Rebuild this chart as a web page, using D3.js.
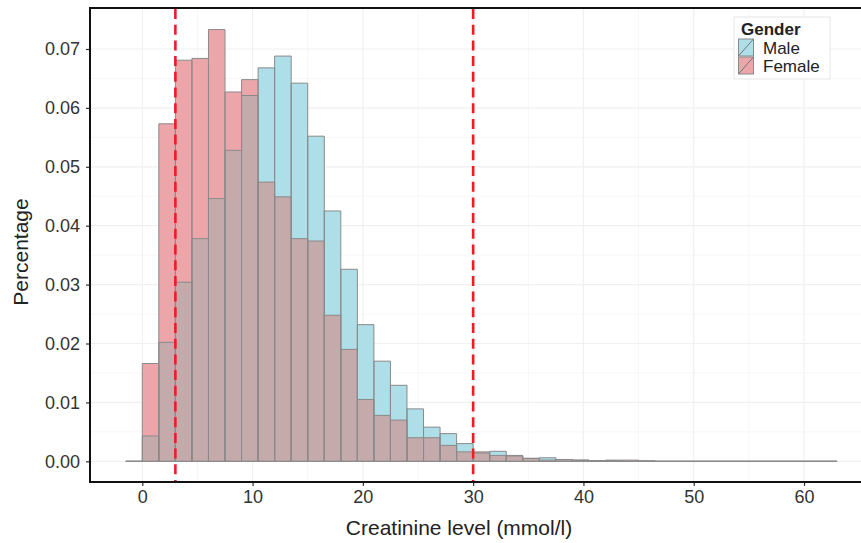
<!DOCTYPE html>
<html>
<head>
<meta charset="utf-8">
<script src="https://cdn.jsdelivr.net/npm/d3@7/dist/d3.min.js"></script>
<style>
  html, body { margin: 0; padding: 0; background: #fff; }
  svg { display: block; font-family: "Liberation Sans", Arial, sans-serif; }
</style>
</head>
<body>
<svg id="chart" width="861" height="543"></svg>
<script>
// ---- data ----
const binStarts = [-1.5, 0, 1.5, 3, 4.5, 6, 7.5, 9, 10.5, 12, 13.5, 15, 16.5, 18, 19.5, 21, 22.5, 24, 25.5, 27, 28.5,
  30, 31.5, 33, 34.5, 36, 37.5, 39, 40.5, 42, 43.5, 45, 46.5, 48, 49.5, 51, 52.5, 54, 55.5, 57, 58.5, 60, 61.5];
const binWidth = 1.5;
const maleValues = [0, 0.0043, 0.0202, 0.0304, 0.0378, 0.0446, 0.0528, 0.0621, 0.0668, 0.0688, 0.0642, 0.0552, 0.0425,
  0.0326, 0.0232, 0.0170, 0.0129, 0.0089, 0.0058, 0.0047, 0.0030, 0.0014, 0.0017, 0.0009, 0.0005, 0.0006, 0.0003,
  0.0002, 0.0001, 0.0001, 0.0000, 0.0001, 0, 0, 0, 0, 0, 0, 0, 0, 0, 0, 0];
const femaleValues = [0, 0.0166, 0.0573, 0.0681, 0.0684, 0.0733, 0.0627, 0.0648, 0.0474, 0.0449, 0.0378, 0.0374, 0.0248,
  0.0190, 0.0105, 0.0078, 0.0070, 0.0040, 0.0040, 0.0027, 0.0016, 0.0016, 0.0010, 0.0010, 0.0005, 0.0002, 0.0003,
  0.0002, 0.0001, 0.0002, 0.0002, 0.0000, 0, 0, 0, 0, 0, 0, 0, 0, 0, 0, 0];
const xTicks = [0, 10, 20, 30, 40, 50, 60];
const xMinor = [5, 15, 25, 35, 45, 55];
const yTicks = [0, 0.01, 0.02, 0.03, 0.04, 0.05, 0.06, 0.07];
const yMinor = [0.005, 0.015, 0.025, 0.035, 0.045, 0.055, 0.065];
const refLines = [3, 30];
const legendLabels = ["Male", "Female"];
const legendTitle = "Gender";
const xTitle = "Creatinine level (mmol/l)";
const yTitle = "Percentage";

// ---- layout ----
const panel = { left: 90, top: 8, right: 875, bottom: 482 };
const colMale = "#AEDEE8", colFemale = "#ECA6AA", colOverlap = "#C5AAAC", colEdge = "#8a8a8a";

const svg = d3.select("#chart");
const x = d3.scaleLinear().domain([0, 60]).range([142.3, 804]);
const y = d3.scaleLinear().domain([0, 0.07]).range([461.3, 49]);

const bins = binStarts.map((s, i) => ({ x0: s, x1: s + binWidth, m: maleValues[i], f: femaleValues[i] }));

// grid
const grid = svg.append("g");
grid.selectAll(".gmx").data(xMinor).join("line")
  .attr("x1", d => x(d)).attr("x2", d => x(d)).attr("y1", panel.top).attr("y2", panel.bottom)
  .attr("stroke", "#f7f7f7").attr("stroke-width", 1);
grid.selectAll(".gmy").data(yMinor).join("line")
  .attr("y1", d => y(d)).attr("y2", d => y(d)).attr("x1", panel.left).attr("x2", panel.right)
  .attr("stroke", "#f7f7f7").attr("stroke-width", 1);
grid.selectAll(".gx").data(xTicks).join("line")
  .attr("x1", d => x(d)).attr("x2", d => x(d)).attr("y1", panel.top).attr("y2", panel.bottom)
  .attr("stroke", "#f0f0f0").attr("stroke-width", 1.2);
grid.selectAll(".gy").data(yTicks).join("line")
  .attr("y1", d => y(d)).attr("y2", d => y(d)).attr("x1", panel.left).attr("x2", panel.right)
  .attr("stroke", "#f0f0f0").attr("stroke-width", 1.2);

// bars
const bars = svg.append("g");
bars.selectAll(".bm").data(bins.filter(b => b.m > 0)).join("rect")
  .attr("x", d => x(d.x0)).attr("width", d => x(d.x1) - x(d.x0))
  .attr("y", d => y(d.m)).attr("height", d => y(0) - y(d.m)).attr("fill", colMale);
bars.selectAll(".bf").data(bins.filter(b => b.f > 0)).join("rect")
  .attr("x", d => x(d.x0)).attr("width", d => x(d.x1) - x(d.x0))
  .attr("y", d => y(d.f)).attr("height", d => y(0) - y(d.f)).attr("fill", colFemale);
bars.selectAll(".bo").data(bins.filter(b => Math.min(b.m, b.f) > 0)).join("rect")
  .attr("x", d => x(d.x0)).attr("width", d => x(d.x1) - x(d.x0))
  .attr("y", d => y(Math.min(d.m, d.f))).attr("height", d => y(0) - y(Math.min(d.m, d.f))).attr("fill", colOverlap);

const outline = (v, d) => `M${x(d.x0)},${y(0)}V${y(v)}H${x(d.x1)}V${y(0)}Z`;
bars.selectAll(".om").data(bins).join("path")
  .attr("d", d => outline(d.m, d)).attr("fill", "none").attr("stroke", colEdge).attr("stroke-width", 1);
bars.selectAll(".of").data(bins).join("path")
  .attr("d", d => outline(d.f, d)).attr("fill", "none").attr("stroke", colEdge).attr("stroke-width", 1);

// reference lines
svg.append("g").selectAll("line").data(refLines).join("line")
  .attr("x1", d => x(d)).attr("x2", d => x(d)).attr("y1", panel.top + 1).attr("y2", panel.bottom)
  .attr("stroke", "#EE1C25").attr("stroke-width", 2.6).attr("stroke-dasharray", "10,5.7");

// axes
const xAxis = d3.axisBottom(x).tickValues(xTicks).tickFormat(d3.format("d")).tickSize(4).tickSizeOuter(0).tickPadding(4);
const gx = svg.append("g").attr("transform", `translate(0,${panel.bottom})`).call(xAxis);
gx.select(".domain").remove();
gx.selectAll(".tick line").attr("stroke", "#333").attr("stroke-width", 1.2);
gx.selectAll(".tick text").attr("fill", "#333").style("font-size", "18px").attr("dy", "0.71em");

const yAxis = d3.axisLeft(y).tickValues(yTicks).tickFormat(d3.format(".2f")).tickSize(4).tickSizeOuter(0).tickPadding(6);
const gy = svg.append("g").attr("transform", `translate(${panel.left},0)`).call(yAxis);
gy.select(".domain").remove();
gy.selectAll(".tick line").attr("stroke", "#333").attr("stroke-width", 1.2);
gy.selectAll(".tick text").attr("fill", "#333").style("font-size", "18px");

// frame lines (top, left, bottom)
const frame = svg.append("g").attr("stroke", "#111").attr("stroke-width", 2);
frame.append("line").attr("x1", panel.left).attr("x2", 861).attr("y1", panel.top).attr("y2", panel.top);
frame.append("line").attr("x1", panel.left).attr("x2", panel.left).attr("y1", panel.top - 1).attr("y2", panel.bottom + 1);
frame.append("line").attr("x1", panel.left).attr("x2", 861).attr("y1", panel.bottom).attr("y2", panel.bottom);

// axis titles
svg.append("text").attr("x", 459).attr("y", 535)
  .attr("text-anchor", "middle").style("font-size", "21px").attr("fill", "#222").text(xTitle);
svg.append("text").attr("transform", `translate(28,252) rotate(-90)`)
  .attr("text-anchor", "middle").style("font-size", "21px").attr("fill", "#222").text(yTitle);

// legend
const lg = svg.append("g").attr("transform", "translate(734,17)");
lg.append("rect").attr("x", 0).attr("y", 0).attr("width", 96).attr("height", 62)
  .attr("fill", "#fff").attr("stroke", "#e6e6e6").attr("stroke-width", 1);
lg.append("text").attr("x", 7).attr("y", 17.5).style("font-size", "17px").style("font-weight", "bold")
  .attr("fill", "#222").text(legendTitle);
const keyCols = [colMale, colFemale];
legendLabels.forEach((lab, i) => {
  const ky = 22 + i * 18;
  lg.append("rect").attr("x", 4.5).attr("y", ky).attr("width", 15).attr("height", 17)
    .attr("fill", keyCols[i]).attr("stroke", colEdge).attr("stroke-width", 1);
  lg.append("line").attr("x1", 4.5).attr("y1", ky + 17).attr("x2", 19.5).attr("y2", ky)
    .attr("stroke", "#777").attr("stroke-width", 1);
  lg.append("text").attr("x", 29).attr("y", ky + 15).style("font-size", "17px").attr("fill", "#222").text(lab);
});
</script>
</body>
</html>
